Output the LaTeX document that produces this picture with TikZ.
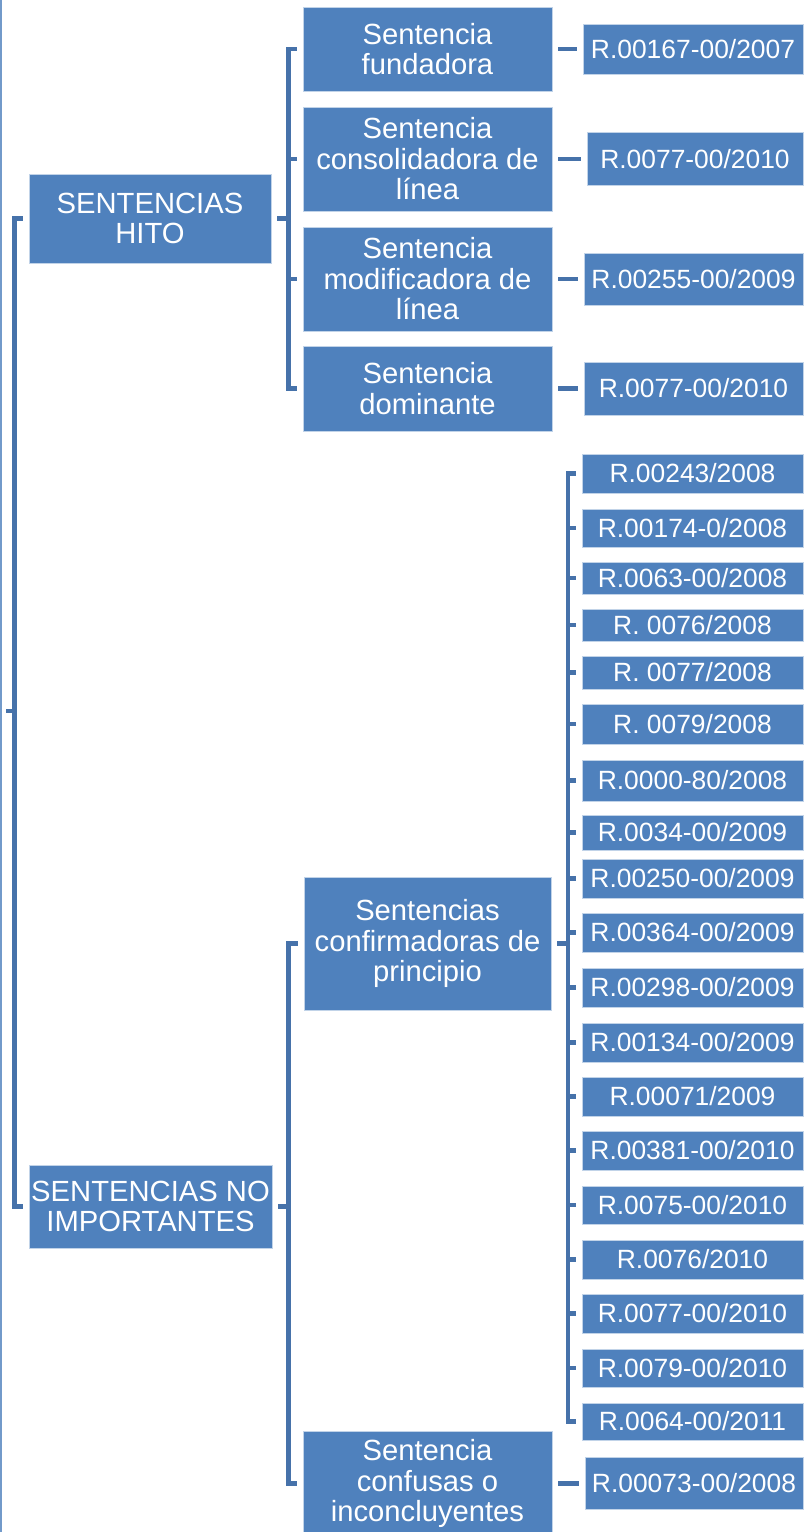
\documentclass[tikz,border=0pt]{standalone}
\usepackage{fontspec}
\setmainfont{Liberation Sans}
\definecolor{boxblue}{HTML}{4F81BD}
\definecolor{lineblue}{HTML}{4672AA}

\begin{document}
\begin{tikzpicture}[x=1pt,y=-1pt,
  box_node/.style={rectangle,fill=boxblue,draw=boxblue!35!white,line width=0.8pt,text=white,inner sep=0pt,align=center,font=\fontsize{29.2}{30.5}\selectfont},
  ref_node/.style={box_node,font=\fontsize{26.4}{28}\selectfont},
  conn_line/.style={draw=lineblue,line width=4.5pt,shorten <=6pt,shorten >=6pt}]
  \useasboundingbox (0,0) rectangle (804,1532);
  \draw[boxblue!80!white,line width=1.5pt] (0.75,0) -- (0.75,1532);

  \coordinate (root) at (6,711);
  \node[box_node,minimum width=242pt,minimum height=89pt] (hito) at (150,218.5) {SENTENCIAS\\HITO};
  \node[box_node,minimum width=243pt,minimum height=83pt] (noimp) at (150.5,1206.5) {SENTENCIAS NO\\IMPORTANTES};

  \node[box_node,minimum width=249pt,minimum height=84pt] (fund) at (427.5,49) {Sentencia\\fundadora};
  \node[box_node,minimum width=249pt,minimum height=104pt] (conso) at (427.5,159) {Sentencia\\consolidadora de\\línea};
  \node[box_node,minimum width=249pt,minimum height=104pt] (modif) at (427.5,279) {Sentencia\\modificadora de\\línea};
  \node[box_node,minimum width=249pt,minimum height=85pt] (domin) at (427.5,388.5) {Sentencia\\dominante};
  \node[box_node,minimum width=247pt,minimum height=133pt] (confirm) at (427.5,943.5) {Sentencias\\confirmadoras de\\principio};
  \node[box_node,minimum width=249pt,minimum height=105pt] (confus) at (427.5,1483.5) {Sentencia\\confusas o\\inconcluyentes};

  \node[ref_node,minimum width=220pt,minimum height=50pt] (rfund) at (693,49) {R.00167-00/2007};
  \node[ref_node,minimum width=216pt,minimum height=53pt] (rconso) at (695,159) {R.0077-00/2010};
  \node[ref_node,minimum width=219pt,minimum height=52pt] (rmodif) at (693.5,279) {R.00255-00/2009};
  \node[ref_node,minimum width=219pt,minimum height=53pt] (rdomin) at (693.5,388.5) {R.0077-00/2010};
  \node[ref_node,minimum width=218pt,minimum height=52pt] (rconfus) at (694,1483.5) {R.00073-00/2008};

  \draw[conn_line,shorten <=0pt] (root) -- ++(8.5,0) |- (hito.west);
  \draw[conn_line,shorten <=0pt] (root) -- ++(8.5,0) |- (noimp.west);
  \foreach \c in {fund,conso,modif,domin}
    \draw[conn_line] (hito.east) -- ++(17,0) |- (\c.west);
  \foreach \c in {confirm,confus}
    \draw[conn_line] (noimp.east) -- ++(16,0) |- (\c.west);
  \foreach \c in {fund,conso,modif,domin,confus}
    \draw[conn_line] (\c.east) -- (r\c.west);

  \foreach \y/\h/\a/\b [count=\i] in {473.5/39/R.00243/2008, 528/38/R.00174-0/2008, 578/32/R.0063-00/2008,
      625/32/R. 0076/2008, 672.5/33/R. 0077/2008, 724/40/R. 0079/2008, 780.5/41/R.0000-80/2008,
      832.5/35/R.0034-00/2009, 878.5/39/R.00250-00/2009, 932.5/39/R.00364-00/2009, 987.5/39/R.00298-00/2009,
      1042.5/39/R.00134-00/2009, 1096.5/39/R.00071/2009, 1150.5/39/R.00381-00/2010, 1205/38/R.0075-00/2010,
      1259.5/39/R.0076/2010, 1313.5/39/R.0077-00/2010, 1368/38/R.0079-00/2010, 1421.5/37/R.0064-00/2011}
  {
    \node[ref_node,minimum width=221pt,minimum height=\h pt] (r\i) at (692.5,\y) {\a/\b};
    \draw[conn_line] (confirm.east) -- ++(16.5,0) |- (r\i.west);
  }
\end{tikzpicture}
\end{document}
